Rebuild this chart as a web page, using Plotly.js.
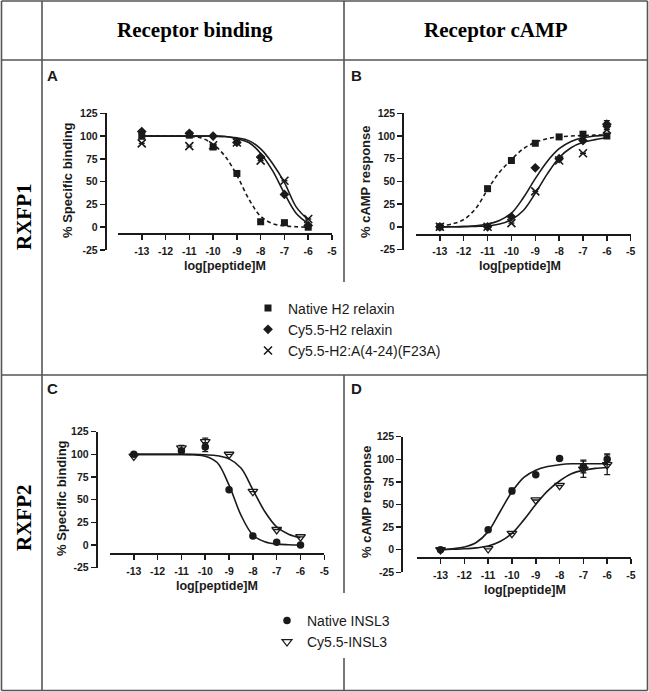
<!DOCTYPE html>
<html>
<head>
<meta charset="utf-8">
<script src="https://cdn.plot.ly/plotly-3.0.1.min.js"></script>
<style>html,body{margin:0;padding:0;background:#fff;}#chart{width:649px;height:692px;}</style>
</head>
<body>
<div id="chart"></div>
<script>
// ---------- DATA ----------
const doses = [-13, -11, -10, -9, -8, -7, -6];
const curveX = [-13, -12.5, -12, -11.5, -11, -10.5, -10, -9.5, -9, -8.5, -8, -7.5, -7, -6.5, -6];
const xTickVals = [-13, -12, -11, -10, -9, -8, -7, -6, -5];
const yTickVals = [-25, 0, 25, 50, 75, 100, 125];

const seriesRow1 = ["Native H2 relaxin", "Cy5.5-H2 relaxin", "Cy5.5-H2:A(4-24)(F23A)"];
const seriesRow2 = ["Native INSL3", "Cy5.5-INSL3"];

// Panel A: RXFP1 receptor binding
const A_native = [100, 101, 88, 59, 6, 5, 0];
const A_cy = [105, 103, 100, 93, 77, 36, 2];
const A_f23a = [92, 89, 90, 93, 73, 51, 9];
const A_native_err = [3, 0, 0, 0, 0, 0, 0];
const A_cy_err = [0, 0, 0, 0, 0, 0, 0];
const A_f23a_err = [0, 0, 0, 0, 0, 0, 0];
const A_native_fit = [100, 100, 100, 100, 99.5, 98, 91, 78, 57, 31, 12, 4, 1.5, 0.5, 0];
const A_cy_fit = [100, 100, 100, 100, 100, 100, 100, 99.5, 97, 93, 81, 62, 37, 15, 4];
const A_f23a_fit = [100, 100, 100, 100, 100, 100, 100, 99.5, 98, 95, 86, 70, 49, 22, 8];

// Panel B: RXFP1 cAMP
const B_native = [0, 42, 73, 92, 99, 102, 100];
const B_cy = [0, 0, 11, 65, 75, 95, 113];
const B_f23a = [0, 0, 4, 39, 73, 81, 107];
const B_native_err = [0, 0, 0, 0, 0, 0, 0];
const B_cy_err = [0, 0, 0, 0, 0, 0, 4];
const B_f23a_err = [0, 0, 0, 0, 0, 0, 0];
const B_native_fit = [1, 3, 8, 20, 41, 60, 74, 86, 93, 97, 99, 100, 100.5, 101, 101];
const B_cy_fit = [0, 0, 0.5, 1, 3, 7, 15, 32, 53, 72, 86, 94, 98, 100, 101];
const B_f23a_fit = [0, 0, 0, 0.5, 1, 3, 8, 18, 37, 58, 76, 87, 93, 96, 98];

// Panel C: RXFP2 receptor binding
const C_native = [100, 104, 108, 61, 10, 3, 0];
const C_cy = [98, 107, 114, 100, 59, 17, 9];
const C_native_err = [0, 2, 5, 0, 0, 0, 0];
const C_cy_err = [0, 3, 4, 0, 0, 0, 0];
const C_native_fit = [100, 100, 100, 100, 100, 99.5, 98, 91, 66, 33, 11, 3.5, 1, 0.3, 0];
const C_cy_fit = [100, 100, 100, 100, 100, 100, 99.5, 98.5, 95, 85, 61, 37, 20, 12, 8];

// Panel D: RXFP2 cAMP
const D_native = [0, 22, 65, 83, 101, 92, 100];
const D_cy = [0, 1, 18, 55, 71, 89, 94];
const D_native_err = [0, 0, 3, 0, 0, 7, 6];
const D_cy_err = [0, 0, 0, 0, 0, 9, 11];
const D_native_fit = [0, 1, 3, 8, 20, 42, 64, 80, 88, 92, 94, 95, 95, 95, 95];
const D_cy_fit = [0, 0.5, 1, 2, 4, 9, 18, 33, 50, 65, 76, 84, 88, 90, 91];

// ---------- STYLE / LAYOUT HELPERS ----------
const W = 649, H = 692;
const fx = v => v / W;
const fy = v => 1 - v / H;
const INK = '#1a1a1a';
const SANS = 'Liberation Sans, Arial, sans-serif';
const SERIF = 'Liberation Serif, Times New Roman, serif';

const symbols = {
  square: {symbol: 'square', size: 7, color: INK},
  diamond: {symbol: 'diamond', size: 7.5, color: INK},
  cross: {symbol: 'x-thin-open', size: 8, color: INK, line: {width: 1.6, color: INK}},
  circle: {symbol: 'circle', size: 7.5, color: INK},
  tri: {symbol: 'triangle-down-open', size: 8.5, color: INK, line: {width: 1.3, color: INK}}
};

const traces = [];
function pts(n, ys, errs, marker, name, legendName, showlegend) {
  traces.push({
    type: 'scatter', mode: 'markers', x: doses, y: ys, name: name,
    xaxis: 'x' + (n === 1 ? '' : n), yaxis: 'y' + (n === 1 ? '' : n),
    marker: marker, cliponaxis: false,
    error_y: {type: 'data', array: errs, visible: true, color: INK, thickness: 1.3, width: 3},
    showlegend: showlegend, legend: legendName
  });
}
function fit(n, ys, dash) {
  traces.push({
    type: 'scatter', mode: 'lines', x: curveX, y: ys, showlegend: false, hoverinfo: 'skip',
    xaxis: 'x' + (n === 1 ? '' : n), yaxis: 'y' + (n === 1 ? '' : n),
    line: {color: INK, width: 1.6, shape: 'spline', dash: dash ? '4px,3px' : 'solid'}
  });
}

// Panel A
fit(1, A_native_fit, true); fit(1, A_cy_fit, false); fit(1, A_f23a_fit, false);
pts(1, A_native, A_native_err, symbols.square, seriesRow1[0], 'legend', true);
pts(1, A_cy, A_cy_err, symbols.diamond, seriesRow1[1], 'legend', true);
pts(1, A_f23a, A_f23a_err, symbols.cross, seriesRow1[2], 'legend', true);
// Panel B
fit(2, B_native_fit, true); fit(2, B_cy_fit, false); fit(2, B_f23a_fit, false);
pts(2, B_native, B_native_err, symbols.square, seriesRow1[0], 'legend', false);
pts(2, B_cy, B_cy_err, symbols.diamond, seriesRow1[1], 'legend', false);
pts(2, B_f23a, B_f23a_err, symbols.cross, seriesRow1[2], 'legend', false);
// Panel C
fit(3, C_native_fit, false); fit(3, C_cy_fit, false);
pts(3, C_native, C_native_err, symbols.circle, seriesRow2[0], 'legend2', true);
pts(3, C_cy, C_cy_err, symbols.tri, seriesRow2[1], 'legend2', true);
// Panel D
fit(4, D_native_fit, false); fit(4, D_cy_fit, false);
pts(4, D_native, D_native_err, symbols.circle, seriesRow2[0], 'legend2', false);
pts(4, D_cy, D_cy_err, symbols.tri, seriesRow2[1], 'legend2', false);

// panel geometry (pixels): y-axis line x, y top/bottom, x-axis line y, x left/right
const panels = [
  {yx: 105.7, yt: 113.3, yb: 250, xy: 234, xl: 118, xr: 332},
  {yx: 403.3, yt: 113.3, yb: 249.5, xy: 234.7, xl: 416, xr: 630.7},
  {yx: 96.7, yt: 431.7, yb: 567.7, xy: 554, xl: 110, xr: 324.3},
  {yx: 402.3, yt: 436.7, yb: 572.3, xy: 558.3, xl: 416.7, xr: 631}
];

const layout = {
  width: W, height: H, margin: {l: 0, r: 0, t: 0, b: 0},
  paper_bgcolor: '#fff', plot_bgcolor: 'rgba(0,0,0,0)',
  font: {family: SANS, color: INK},
  showlegend: true,
  legend: {x: fx(248), y: fy(292.5), xanchor: 'left', yanchor: 'top', bgcolor: 'rgba(0,0,0,0)',
           font: {family: SANS, size: 14, color: INK}, tracegroupgap: 0},
  legend2: {x: fx(267), y: fy(605), xanchor: 'left', yanchor: 'top', bgcolor: 'rgba(0,0,0,0)',
            font: {family: SANS, size: 14, color: INK}, tracegroupgap: 0},
  annotations: [], shapes: []
};

panels.forEach((p, i) => {
  const s = i === 0 ? '' : (i + 1);
  layout['xaxis' + s] = {
    anchor: 'free', position: fy(p.xy), domain: [fx(p.xl), fx(p.xr)], range: [-14, -5],
    showgrid: false, zeroline: false, showline: true, linecolor: INK, linewidth: 2,
    ticks: 'outside', ticklen: 5, tickwidth: 1.5, tickcolor: INK, ticklabelstandoff: 2,
    tickvals: xTickVals, ticktext: xTickVals.map(String),
    tickfont: {family: SANS, size: 10.5, color: INK, weight: 'bold'}
  };
  layout['yaxis' + s] = {
    anchor: 'free', position: fx(p.yx), domain: [fy(p.yb), fy(p.yt)], range: [-25, 125],
    showgrid: false, zeroline: false, showline: true, linecolor: INK, linewidth: 2,
    ticks: 'outside', ticklen: 5, tickwidth: 1.5, tickcolor: INK,
    tickvals: yTickVals, ticktext: yTickVals.map(String),
    tickfont: {family: SANS, size: 10.5, color: INK, weight: 'bold'}
  };
});

function ann(text, x, y, size, opts) {
  layout.annotations.push(Object.assign({
    text: text, x: fx(x), y: fy(y), xref: 'paper', yref: 'paper', showarrow: false,
    xanchor: 'center', yanchor: 'middle', font: {family: SANS, size: size, color: INK}
  }, opts || {}));
}
// headers
ann('<b>Receptor binding</b>', 195, 30, 21, {font: {family: SERIF, size: 21, color: '#000'}});
ann('<b>Receptor cAMP</b>', 496, 30, 21, {font: {family: SERIF, size: 21, color: '#000'}});
ann('<b>RXFP1</b>', 24, 217, 21, {textangle: -90, font: {family: SERIF, size: 21, color: '#000'}});
ann('<b>RXFP2</b>', 24, 518, 21, {textangle: -90, font: {family: SERIF, size: 21, color: '#000'}});
// panel letters
ann('<b>A</b>', 53, 75, 15);
ann('<b>B</b>', 356, 75, 15);
ann('<b>C</b>', 53, 389, 15);
ann('<b>D</b>', 356, 389, 15);
// axis titles
ann('<b>% Specific binding</b>', 68, 180, 13, {textangle: -90});
ann('<b>% cAMP response</b>', 365, 182, 13, {textangle: -90});
ann('<b>% Specific binding</b>', 61, 498, 13, {textangle: -90});
ann('<b>% cAMP response</b>', 366, 502, 13, {textangle: -90});
ann('<b>log[peptide]M</b>', 225, 266, 12.5);
ann('<b>log[peptide]M</b>', 520, 266, 12.5);
ann('<b>log[peptide]M</b>', 217, 586, 12.5);
ann('<b>log[peptide]M</b>', 525, 590, 12.5);

// table grid lines
function line(x0, y0, x1, y1) {
  layout.shapes.push({type: 'line', xref: 'paper', yref: 'paper', x0: fx(x0), y0: fy(y0), x1: fx(x1), y1: fy(y1),
                      line: {color: '#555', width: 1.6}, layer: 'below'});
}
line(1.5, 1, 647.5, 1);
line(1.5, 690.5, 647.5, 690.5);
line(1.5, 1, 1.5, 690.5);
line(647.5, 1, 647.5, 690.5);
line(42, 1, 42, 690.5);
line(1.5, 60, 647.5, 60);
line(1.5, 375, 647.5, 375);
line(344, 1, 344, 282);
line(344, 375, 344, 593);
line(344, 658, 344, 690.5);

Plotly.newPlot('chart', traces, layout, {staticPlot: true, displayModeBar: false});
</script>
</body>
</html>
